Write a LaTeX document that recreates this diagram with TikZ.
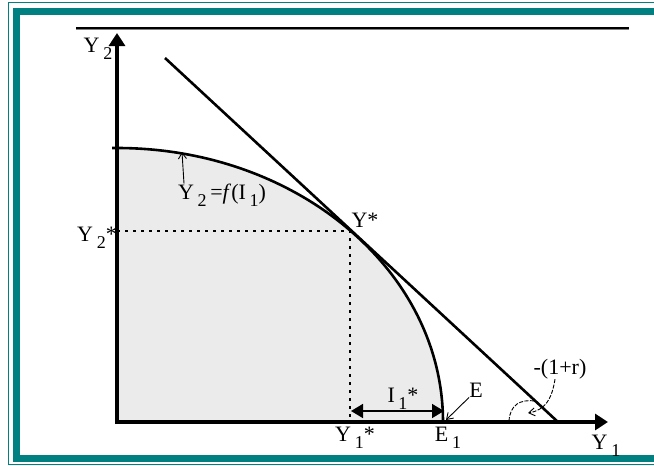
\documentclass[tikz,border=0pt]{standalone}
\usepackage{fontspec}
\setmainfont{Liberation Serif}
\usepackage{tikz}
\usetikzlibrary{positioning,arrows.meta}
\definecolor{frameteal}{RGB}{0,128,128}
\definecolor{areagray}{RGB}{235,235,235}
\newcommand\lowidx[1]{\,\raisebox{-0.32em}{\fontsize{18}{18}\selectfont #1}}

\begin{document}
\begin{tikzpicture}[x=1pt,y=-1pt,
  lab/.style={inner sep=0pt,font=\fontsize{22}{22}\selectfont},
  axis/.style={line width=3.2pt,-{Triangle[length=13pt,width=16pt]}},
  bold/.style={line width=2.6pt},
  guide/.style={line width=1.1pt,dash pattern=on 3pt off 5pt},
  pointer/.style={line width=0.9pt,-{Straight Barb[length=6pt,width=8pt]}},
  faint/.style={pointer,dash pattern=on 4pt off 1.5pt}
]
\useasboundingbox (0,0) rectangle (654,466);
\clip (0,0) rectangle (654,466);
% window frame
\draw[frameteal,line width=1.5pt] (8.5,2.5) rectangle (680,464.5);
\draw[frameteal,line width=7pt] (16.5,11) rectangle (680,458.5);
% rule at the top
\draw[gray,line width=1.5pt] (76,29.5) -- (629,29.5);
\draw[line width=2pt] (76,27.5) -- (629,27.5);

% points
\coordinate (O) at (117,422);
\coordinate (Ytop) at (117,33);
\coordinate (Xend) at (608,422);
\coordinate (C0) at (117,148);
\coordinate (Ys) at (350,231);
\coordinate (E1) at (443,422);
\coordinate (Ys1) at (350,422);
\coordinate (Ys2) at (117,231);
\coordinate (L1) at (165,58);
\coordinate (L2) at (558,422);

% feasible set
\fill[areagray] (O) -- (C0) arc[start angle=-90,end angle=0,x radius=326,y radius=274] -- cycle;
\draw[guide] (Ys2) -- (Ys) -- (Ys1);
\draw[bold] (112,148) -- (C0) arc[start angle=-90,end angle=0,x radius=326,y radius=274];
\draw[bold] (L1) -- (L2);
\draw[axis] (117,424) -- (Ytop);
\draw[axis] (115,422) -- (Xend);

% labels
\node[lab] (y2) at (98,49) {Y\lowidx{2}};
\node[lab] (y2s) at (97,238) {Y\lowidx{2}*};
\node[lab] (fy) at (222,195) {Y\lowidx{2}\,=\textit{f}(I\lowidx{1})};
\node[lab] (ys) at (365,220) {Y*};
\node[lab] (i1) at (403,399) {I\lowidx{1}*};
\node[lab] (y1s) at (355,438) {Y\lowidx{1}*};
\node[lab] (e1) at (448,438) {E\lowidx{1}};
\node[lab] (e) at (476,390) {E};
\node[lab] (rr) at (560,369) {-(1+r)};
\node[lab] (y1) at (606,446) {Y\lowidx{1}};

% pointers
\coordinate (fpt) at (182,152);
\coordinate (ept) at (446,420);
\coordinate (rpt) at (528,413);
\coordinate (i1a) at (351,411);
\coordinate (i1b) at (444,411);
\draw[pointer] (fy.north -| 184,0) -- (fpt);
\draw[pointer] (e.south west) -- (ept);
\draw[line width=1.6pt,{Triangle[length=12pt,width=14pt]}-{Triangle[length=12pt,width=14pt]}] (i1a) -- (i1b);
\draw[faint] (rr.south -| 555,0) .. controls (552,398) and (546,410) .. (rpt);
\draw[line width=0.9pt,dash pattern=on 4pt off 1.5pt] (509,421) .. controls (510,405) and (520,399) .. (535,401);
\end{tikzpicture}
\end{document}
